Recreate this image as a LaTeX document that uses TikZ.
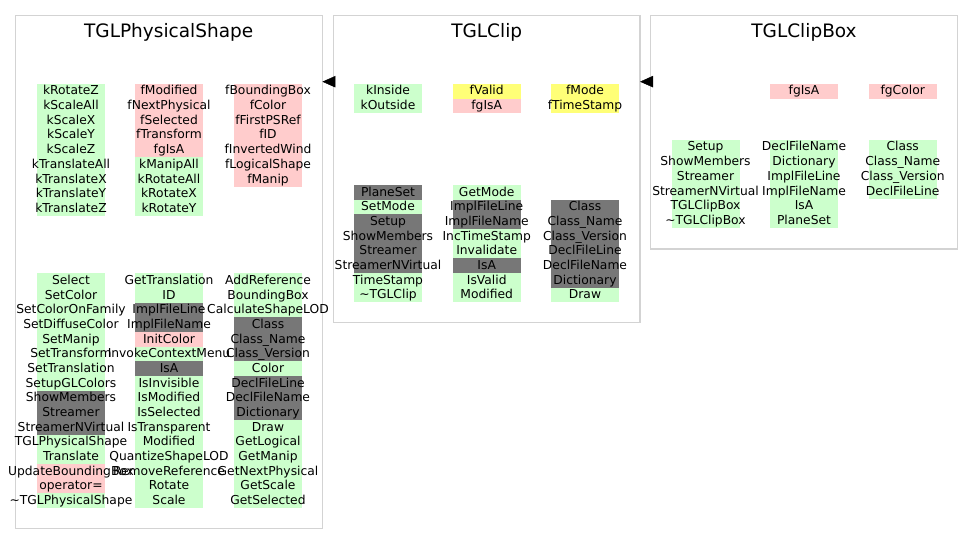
\documentclass[tikz,border=0pt]{standalone}
\usepackage{fontspec}
\setmainfont{DejaVu Sans}
\usepackage{xcolor}
\usetikzlibrary{arrows.meta}
\definecolor{memgreen}{HTML}{CCFFCC}
\definecolor{mempink}{HTML}{FFCCCC}
\definecolor{memdark}{HTML}{777777}
\definecolor{memyellow}{HTML}{FFFF77}
\definecolor{framegray}{HTML}{D3D3D3}

\begin{document}
\begin{tikzpicture}[x=1pt,y=-1pt,
	mem/.style={inner sep=0pt,outer sep=0pt,minimum width=68pt,minimum height=14.67pt,
		text height=10pt,text depth=2.6pt,font=\fontsize{12.3}{14}\selectfont,
		execute at begin node={\hbox to 0pt\bgroup\hss},execute at end node={\hss\egroup}},
	memg/.style={mem,fill=memgreen},
	memp/.style={mem,fill=mempink},
	memd/.style={mem,fill=memdark},
	memy/.style={mem,fill=memyellow},
	cframe/.style={draw=framegray,line width=1.2pt,inner sep=0pt,outer sep=0pt},
	cname/.style={anchor=base,font=\fontsize{18.5}{20}\selectfont}]
	\useasboundingbox (0,0) rectangle (973,556);

	% (frames)
	\node[cframe,minimum width=306.8pt,minimum height=513pt] (ps) at (169,272.2) {};
	\node[cframe,minimum width=306.7pt,minimum height=307pt] (clip) at (486.7,169.2) {};
	\node[cframe,minimum width=306.6pt,minimum height=233.3pt] (clipbox) at (804,132.3) {};
	\node[cname] (psname) at (168.7,37.3) {TGLPhysicalShape};
	\node[cname] (clipname) at (486.7,37.3) {TGLClip};
	\node[cname] (clipboxname) at (804,37.3) {TGLClipBox};

	% (inheritance)
	\draw[-{Triangle[length=13pt,width=11.5pt]}] ([yshift=-66pt]clip.north west) -- ([yshift=-66pt]ps.north east);
	\draw[-{Triangle[length=13pt,width=11.5pt]}] ([yshift=-66pt]clipbox.north west) -- ([yshift=-66pt]clip.north east);

	% (TGLPhysicalShape data)
	\node[memg] (pst11) at (71,91.3) {kRotateZ};
	\node[memg] (pst12) at (71,106.0) {kScaleAll};
	\node[memg] (pst13) at (71,120.7) {kScaleX};
	\node[memg] (pst14) at (71,135.3) {kScaleY};
	\node[memg] (pst15) at (71,150.0) {kScaleZ};
	\node[memg] (pst16) at (71,164.7) {kTranslateAll};
	\node[memg] (pst17) at (71,179.4) {kTranslateX};
	\node[memg] (pst18) at (71,194.0) {kTranslateY};
	\node[memg] (pst19) at (71,208.7) {kTranslateZ};
	\node[memp] (pst21) at (169,91.3) {fModified};
	\node[memp] (pst22) at (169,106.0) {fNextPhysical};
	\node[memp] (pst23) at (169,120.7) {fSelected};
	\node[memp] (pst24) at (169,135.3) {fTransform};
	\node[memp] (pst25) at (169,150.0) {fgIsA};
	\node[memg] (pst26) at (169,164.7) {kManipAll};
	\node[memg] (pst27) at (169,179.4) {kRotateAll};
	\node[memg] (pst28) at (169,194.0) {kRotateX};
	\node[memg] (pst29) at (169,208.7) {kRotateY};
	\node[memp] (pst31) at (268,91.3) {fBoundingBox};
	\node[memp] (pst32) at (268,106.0) {fColor};
	\node[memp] (pst33) at (268,120.7) {fFirstPSRef};
	\node[memp] (pst34) at (268,135.3) {fID};
	\node[memp] (pst35) at (268,150.0) {fInvertedWind};
	\node[memp] (pst36) at (268,164.7) {fLogicalShape};
	\node[memp] (pst37) at (268,179.4) {fManip};

	% (TGLPhysicalShape methods)
	\node[memg] (psb101) at (71,280.7) {Select};
	\node[memg] (psb102) at (71,295.3) {SetColor};
	\node[memg] (psb103) at (71,310.0) {SetColorOnFamily};
	\node[memg] (psb104) at (71,324.7) {SetDiffuseColor};
	\node[memg] (psb105) at (71,339.4) {SetManip};
	\node[memg] (psb106) at (71,354.0) {SetTransform};
	\node[memg] (psb107) at (71,368.7) {SetTranslation};
	\node[memg] (psb108) at (71,383.4) {SetupGLColors};
	\node[memd] (psb109) at (71,398.0) {ShowMembers};
	\node[memd] (psb110) at (71,412.7) {Streamer};
	\node[memd] (psb111) at (71,427.4) {StreamerNVirtual};
	\node[memg] (psb112) at (71,442.1) {TGLPhysicalShape};
	\node[memg] (psb113) at (71,456.7) {Translate};
	\node[memp] (psb114) at (71,471.4) {UpdateBoundingBox};
	\node[memp] (psb115) at (71,486.1) {operator=};
	\node[memg] (psb116) at (71,500.7) {\textasciitilde TGLPhysicalShape};
	\node[memg] (psb201) at (169,280.7) {GetTranslation};
	\node[memg] (psb202) at (169,295.3) {ID};
	\node[memd] (psb203) at (169,310.0) {ImplFileLine};
	\node[memd] (psb204) at (169,324.7) {ImplFileName};
	\node[memp] (psb205) at (169,339.4) {InitColor};
	\node[memg] (psb206) at (169,354.0) {InvokeContextMenu};
	\node[memd] (psb207) at (169,368.7) {IsA};
	\node[memg] (psb208) at (169,383.4) {IsInvisible};
	\node[memg] (psb209) at (169,398.0) {IsModified};
	\node[memg] (psb210) at (169,412.7) {IsSelected};
	\node[memg] (psb211) at (169,427.4) {IsTransparent};
	\node[memg] (psb212) at (169,442.1) {Modified};
	\node[memg] (psb213) at (169,456.7) {QuantizeShapeLOD};
	\node[memg] (psb214) at (169,471.4) {RemoveReference};
	\node[memg] (psb215) at (169,486.1) {Rotate};
	\node[memg] (psb216) at (169,500.7) {Scale};
	\node[memg] (psb301) at (268,280.7) {AddReference};
	\node[memg] (psb302) at (268,295.3) {BoundingBox};
	\node[memg] (psb303) at (268,310.0) {CalculateShapeLOD};
	\node[memd] (psb304) at (268,324.7) {Class};
	\node[memd] (psb305) at (268,339.4) {Class\_Name};
	\node[memd] (psb306) at (268,354.0) {Class\_Version};
	\node[memg] (psb307) at (268,368.7) {Color};
	\node[memd] (psb308) at (268,383.4) {DeclFileLine};
	\node[memd] (psb309) at (268,398.0) {DeclFileName};
	\node[memd] (psb310) at (268,412.7) {Dictionary};
	\node[memg] (psb311) at (268,427.4) {Draw};
	\node[memg] (psb312) at (268,442.1) {GetLogical};
	\node[memg] (psb313) at (268,456.7) {GetManip};
	\node[memg] (psb314) at (268,471.4) {GetNextPhysical};
	\node[memg] (psb315) at (268,486.1) {GetScale};
	\node[memg] (psb316) at (268,500.7) {GetSelected};

	% (TGLClip data)
	\node[memg] (clt11) at (388,91.3) {kInside};
	\node[memg] (clt12) at (388,106.0) {kOutside};
	\node[memy] (clt21) at (486.7,91.3) {fValid};
	\node[memp] (clt22) at (486.7,106.0) {fgIsA};
	\node[memy] (clt31) at (585,91.3) {fMode};
	\node[memy] (clt32) at (585,106.0) {fTimeStamp};

	% (TGLClip methods)
	\node[memd] (clb11) at (388,192.3) {PlaneSet};
	\node[memg] (clb12) at (388,207.0) {SetMode};
	\node[memd] (clb13) at (388,221.7) {Setup};
	\node[memd] (clb14) at (388,236.3) {ShowMembers};
	\node[memd] (clb15) at (388,251.0) {Streamer};
	\node[memd] (clb16) at (388,265.7) {StreamerNVirtual};
	\node[memg] (clb17) at (388,280.3) {TimeStamp};
	\node[memg] (clb18) at (388,295.0) {\textasciitilde TGLClip};
	\node[memg] (clb21) at (486.7,192.3) {GetMode};
	\node[memd] (clb22) at (486.7,207.0) {ImplFileLine};
	\node[memd] (clb23) at (486.7,221.7) {ImplFileName};
	\node[memg] (clb24) at (486.7,236.3) {IncTimeStamp};
	\node[memg] (clb25) at (486.7,251.0) {Invalidate};
	\node[memd] (clb26) at (486.7,265.7) {IsA};
	\node[memg] (clb27) at (486.7,280.3) {IsValid};
	\node[memg] (clb28) at (486.7,295.0) {Modified};
	\node[memd] (clb31) at (585,207.0) {Class};
	\node[memd] (clb32) at (585,221.7) {Class\_Name};
	\node[memd] (clb33) at (585,236.3) {Class\_Version};
	\node[memd] (clb34) at (585,251.0) {DeclFileLine};
	\node[memd] (clb35) at (585,265.7) {DeclFileName};
	\node[memd] (clb36) at (585,280.3) {Dictionary};
	\node[memg] (clb37) at (585,295.0) {Draw};

	% (TGLClipBox data)
	\node[memp] (cbt21) at (804,91.3) {fgIsA};
	\node[memp] (cbt31) at (902.7,91.3) {fgColor};

	% (TGLClipBox methods)
	\node[memg] (cbb11) at (705.5,147.3) {Setup};
	\node[memg] (cbb12) at (705.5,162.0) {ShowMembers};
	\node[memg] (cbb13) at (705.5,176.7) {Streamer};
	\node[memg] (cbb14) at (705.5,191.3) {StreamerNVirtual};
	\node[memg] (cbb15) at (705.5,206.0) {TGLClipBox};
	\node[memg] (cbb16) at (705.5,220.7) {\textasciitilde TGLClipBox};
	\node[memg] (cbb21) at (804,147.3) {DeclFileName};
	\node[memg] (cbb22) at (804,162.0) {Dictionary};
	\node[memg] (cbb23) at (804,176.7) {ImplFileLine};
	\node[memg] (cbb24) at (804,191.3) {ImplFileName};
	\node[memg] (cbb25) at (804,206.0) {IsA};
	\node[memg] (cbb26) at (804,220.7) {PlaneSet};
	\node[memg] (cbb31) at (902.7,147.3) {Class};
	\node[memg] (cbb32) at (902.7,162.0) {Class\_Name};
	\node[memg] (cbb33) at (902.7,176.7) {Class\_Version};
	\node[memg] (cbb34) at (902.7,191.3) {DeclFileLine};

\end{tikzpicture}
\end{document}
